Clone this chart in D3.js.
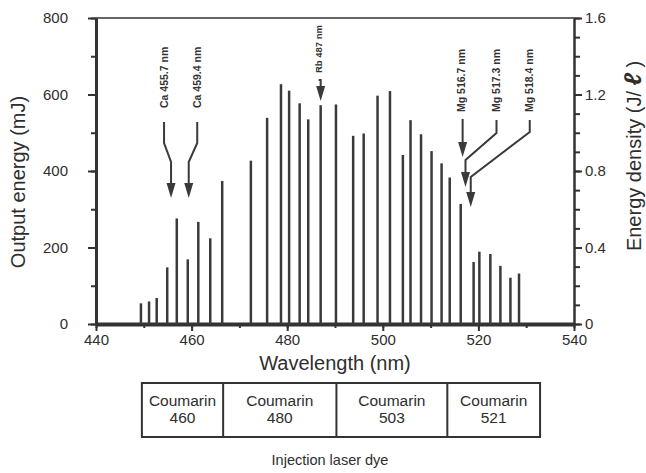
<!DOCTYPE html>
<html>
<head>
<meta charset="utf-8">
<script src="https://cdn.jsdelivr.net/npm/d3@7"></script>
<style>
  body { margin: 0; background: #fff; }
  svg { font-family: "Liberation Sans", Arial, sans-serif; }
  .axis path, .axis line { stroke: #333; }
  .axis text { font-size: 15px; fill: #2e2e2e; }
  .bar { stroke: #3a3a3a; stroke-width: 2.5; }
  .callout { fill: none; stroke: #3a3a3a; stroke-width: 2; }
  .head { fill: #3a3a3a; }
  .callout-label { font-size: 10.5px; font-weight: bold; fill: #333; }
  .title { font-size: 20px; fill: #2e2e2e; }
  .dye rect, .dye line { fill: none; stroke: #333; stroke-width: 2; }
  .dye text { font-size: 15.5px; fill: #2e2e2e; text-anchor: middle; }
</style>
</head>
<body>
<div id="chart"></div>
<script>
// lines (nm) and output energy (mJ)
var wavelengths = [449.4, 451.1, 452.7, 454.9, 456.9, 459.2, 461.4, 463.9, 466.4,
  472.4, 475.8, 478.7, 480.4, 482.6, 484.4, 487.0, 490.2,
  493.8, 496.0, 498.9, 501.5, 504.2, 505.8, 508.0, 510.2, 512.3, 514.0,
  516.3, 519.0, 520.2, 522.5, 524.6, 526.7, 528.5];
var outputEnergy = [54, 59, 68, 148, 276, 169, 267, 224, 374,
  427, 539, 627, 610, 577, 535, 572, 574,
  492, 498, 597, 609, 442, 533, 496, 452, 420, 383,
  314, 162, 189, 183, 152, 121, 132];

var xTicks = [440, 460, 480, 500, 520, 540];
var yTicks = [0, 200, 400, 600, 800];
var densityTicks = [0, 0.4, 0.8, 1.2, 1.6];

var lineNames = ["Ca 455.7 nm", "Ca 459.4 nm", "Rb 487 nm", "Mg 516.7 nm", "Mg 517.3 nm", "Mg 518.4 nm"];
var lineNm = [455.7, 459.4, 487, 516.7, 517.3, 518.4];

var dyeNames = ["460", "480", "503", "521"];
var dyeEdges = [449.6, 466.6, 490.3, 513.5, 532.9];

var width = 646,
    height = 473,
    plotLeft = 96, plotRight = 574, plotTop = 18, plotBottom = 324;

var x = d3.scaleLinear().domain([440, 540]).range([plotLeft, plotRight]);
var y = d3.scaleLinear().domain([0, 800]).range([plotBottom, plotTop]);
var y2 = d3.scaleLinear().domain([0, 1.6]).range([plotBottom, plotTop]);

var svg = d3.select("#chart").append("svg")
    .attr("width", width)
    .attr("height", height);

// minor ticks first, then major ones with labels
svg.append("g").attr("class", "axis")
    .attr("transform", "translate(0," + plotBottom + ")")
    .call(d3.axisBottom(x).tickValues(d3.range(440, 541, 10)).tickSize(4).tickFormat(""));
svg.append("g").attr("class", "axis")
    .attr("transform", "translate(" + plotLeft + ",0)")
    .call(d3.axisLeft(y).tickValues(d3.range(0, 801, 100)).tickSize(5).tickFormat(""));
svg.append("g").attr("class", "axis")
    .attr("transform", "translate(" + plotRight + ",0)")
    .call(d3.axisRight(y2).tickValues(d3.range(0, 17).map(function(d) { return d / 10; })).tickSize(6).tickFormat(""));

var xAxis = svg.append("g").attr("class", "axis")
    .attr("transform", "translate(0," + plotBottom + ")")
    .call(d3.axisBottom(x).tickValues(xTicks).tickSize(7).tickSizeOuter(0).tickPadding(3));
var yAxis = svg.append("g").attr("class", "axis")
    .attr("transform", "translate(" + plotLeft + ",0)")
    .call(d3.axisLeft(y).tickValues(yTicks).tickSize(8).tickSizeOuter(0).tickPadding(20));
var y2Axis = svg.append("g").attr("class", "axis")
    .attr("transform", "translate(" + plotRight + ",0)")
    .call(d3.axisRight(y2).tickValues(densityTicks).tickSize(8).tickSizeOuter(0).tickPadding(3)
      .tickFormat(function(d) { return d === 0 ? "0" : d3.format(".1f")(d); }));

svg.selectAll(".axis line").attr("stroke-width", 2);
xAxis.select(".domain").attr("stroke-width", 4);
yAxis.select(".domain").attr("stroke-width", 3);
y2Axis.select(".domain").attr("stroke-width", 2.5);

// frame top
svg.append("line")
    .attr("x1", plotLeft).attr("x2", plotRight)
    .attr("y1", plotTop).attr("y2", plotTop)
    .attr("stroke", "#333").attr("stroke-width", 1.5);

// spectral lines
svg.selectAll(".bar")
    .data(wavelengths)
  .enter().append("line")
    .attr("class", "bar")
    .attr("x1", function(d) { return x(d); })
    .attr("x2", function(d) { return x(d); })
    .attr("y1", y(0))
    .attr("y2", function(d, i) { return y(outputEnergy[i]); });

// callouts: label x offset from the arrow, and the leader's y stops
var callouts = [
  {dx: -7,  textEnd: 108, bend1: 122, bend2: 143, bend3: 162, tip: 198, size: 10.5},
  {dx: 8.5, textEnd: 108, bend1: 122, bend2: 143, bend3: 162, tip: 198, size: 10.5},
  {dx: -2,  textEnd: 73,  bend1: 80,  bend2: 80,  bend3: 80,  tip: 101, size: 9.5},
  {dx: -1,  textEnd: 112, bend1: 120, bend2: 120, bend3: 120, tip: 157, size: 10.5},
  {dx: 31,  textEnd: 112, bend1: 120, bend2: 133, bend3: 160, tip: 187, size: 10.5},
  {dx: 59,  textEnd: 112, bend1: 120, bend2: 132, bend3: 177, tip: 207, size: 10.5}
];

callouts.forEach(function(c, i) {
  var ax = x(lineNm[i]), tx = ax + c.dx;
  var headLen = 15, headW = 4.5;
  svg.append("text")
      .attr("class", "callout-label")
      .style("font-size", c.size + "px")
      .attr("transform", "translate(" + tx + "," + c.textEnd + ") rotate(-90)")
      .attr("dy", "0.35em")
      .text(lineNames[i]);
  svg.append("path")
      .attr("class", "callout")
      .attr("d", d3.line()([[tx, c.bend1], [tx, c.bend2], [ax, c.bend3], [ax, c.tip - headLen + 2]]));
  svg.append("path")
      .attr("class", "head")
      .attr("d", "M" + (ax - headW) + "," + (c.tip - headLen) + "L" + (ax + headW) + "," + (c.tip - headLen) + "L" + ax + "," + c.tip + "Z");
});

// axis titles
svg.append("text")
    .attr("class", "title")
    .attr("x", x(490)).attr("y", 370)
    .attr("text-anchor", "middle")
    .text("Wavelength (nm)");

svg.append("text")
    .attr("class", "title")
    .attr("transform", "translate(25," + 182 + ") rotate(-90)")
    .attr("text-anchor", "middle")
    .text("Output energy (mJ)");

var rt = svg.append("text")
    .attr("class", "title")
    .attr("transform", "translate(641," + 156 + ") rotate(-90)")
    .attr("text-anchor", "middle");
rt.append("tspan").text("Energy density (J/ ");
rt.append("tspan").style("font-weight", "bold").style("font-style", "italic").style("font-size", "24px").text("ℓ");
rt.append("tspan").text(" )");

// injection laser dye table
var dye = svg.append("g").attr("class", "dye");
dye.append("rect")
    .attr("x", x(dyeEdges[0])).attr("y", 383)
    .attr("width", x(dyeEdges[4]) - x(dyeEdges[0])).attr("height", 54);
dye.selectAll("line")
    .data(dyeEdges.slice(1, 4))
  .enter().append("line")
    .attr("x1", function(d) { return x(d); }).attr("x2", function(d) { return x(d); })
    .attr("y1", 383).attr("y2", 437);
var cells = dye.selectAll(".cell")
    .data(dyeNames)
  .enter().append("text")
    .attr("class", "cell")
    .attr("x", function(d, i) { return (x(dyeEdges[i]) + x(dyeEdges[i + 1])) / 2; })
    .attr("y", 406);
cells.append("tspan").text("Coumarin");
cells.append("tspan")
    .attr("x", function(d, i) { return (x(dyeEdges[i]) + x(dyeEdges[i + 1])) / 2; })
    .attr("dy", 17)
    .text(function(d) { return d; });

svg.append("text")
    .attr("x", 330).attr("y", 465)
    .attr("text-anchor", "middle")
    .style("font-size", "14.5px")
    .style("fill", "#2e2e2e")
    .text("Injection laser dye");
</script>
</body>
</html>
